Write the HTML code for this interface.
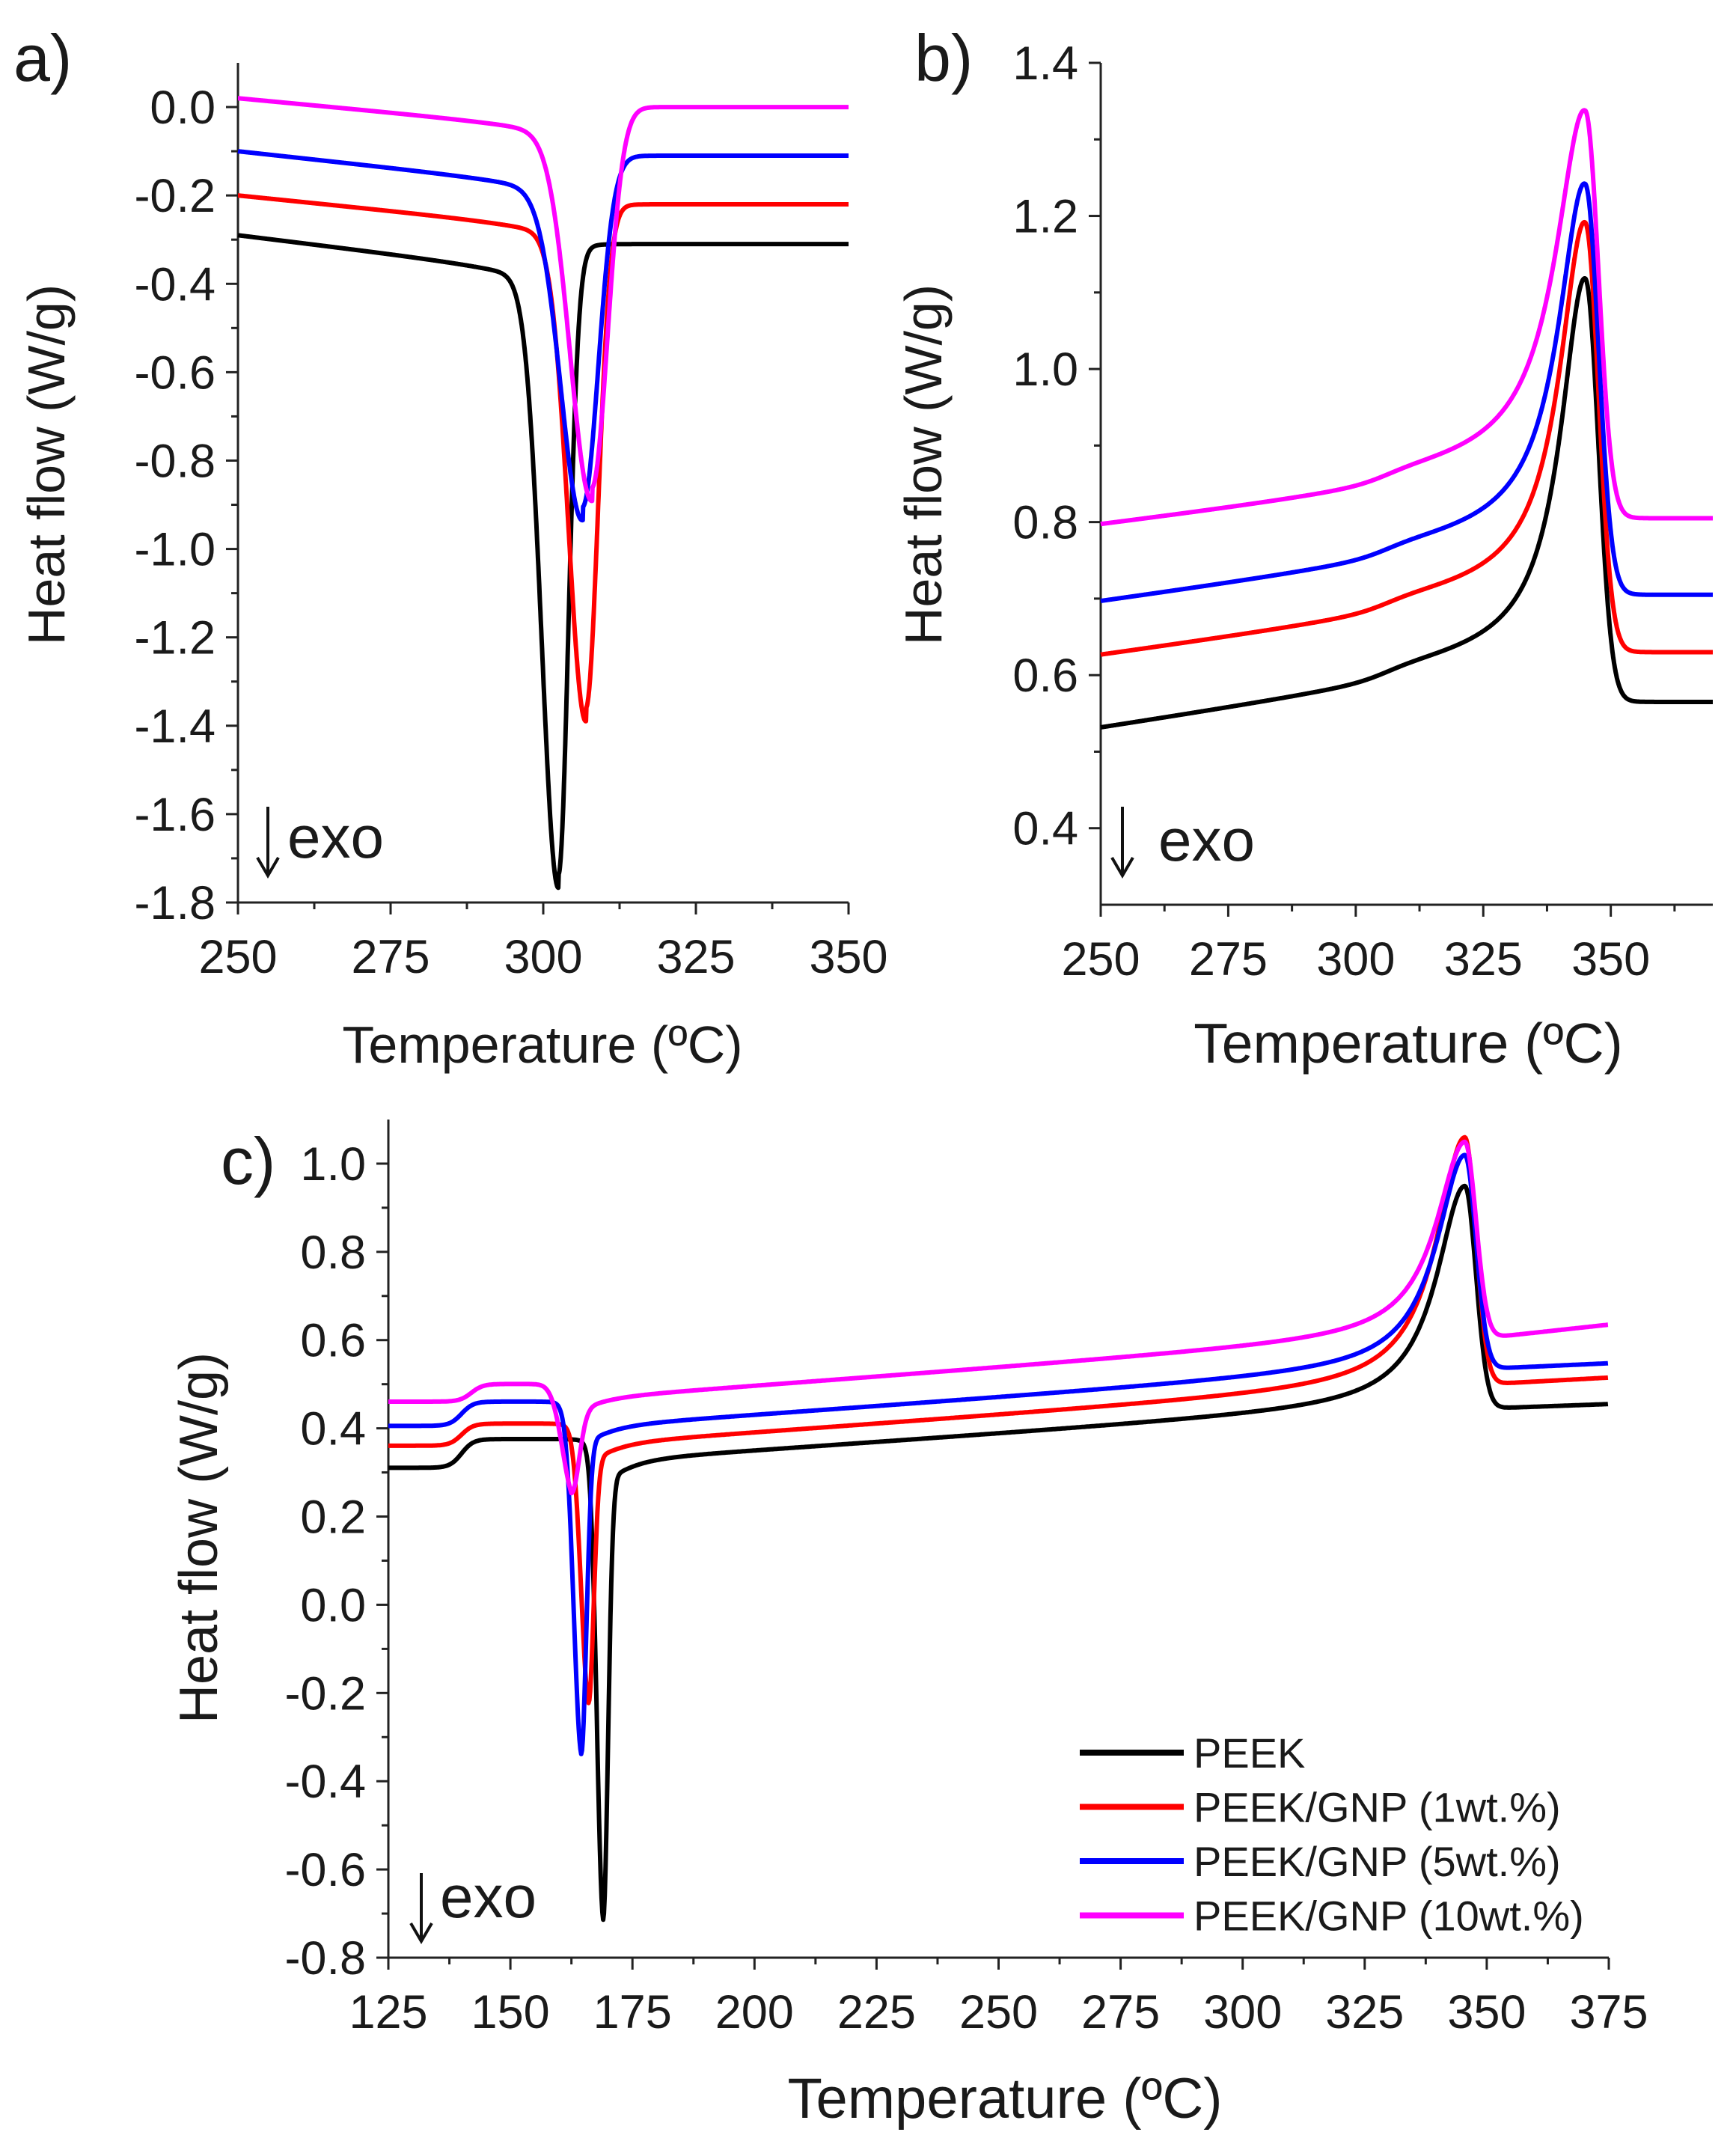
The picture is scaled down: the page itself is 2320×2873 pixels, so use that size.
<!DOCTYPE html>
<html><head><meta charset="utf-8"><style>
html,body{margin:0;padding:0;background:#fff;}
svg{display:block;}
text{font-family:"Liberation Sans",Arial,sans-serif;fill:#1a1a1a;}
</style></head><body>
<svg id="s" width="2320" height="2873" viewBox="0 0 2320 2873" xmlns="http://www.w3.org/2000/svg"></svg>
<script>
const S=document.getElementById('s');let out='';
function ax(P){
 const X=v=>P.L+(v-P.x0)/(P.x1-P.x0)*(P.R-P.L);
 const Y=v=>P.B+(v-P.y0)/(P.y1-P.y0)*(P.T-P.B);
 P.X=X;P.Y=Y;
 out+=`<path d="M${P.L} ${P.T}V${P.B}H${P.R}" stroke="#222" stroke-width="3" fill="none"/>`;
 for(let v=P.xs;v<=P.x1+1e-6;v+=P.xm/2){const x=X(v);const maj=Math.abs(((v-P.xs)/P.xm)-Math.round((v-P.xs)/P.xm))<1e-6;
  out+=`<line x1="${x}" y1="${P.B}" x2="${x}" y2="${P.B+(maj?16:9)}" stroke="#222" stroke-width="3"/>`;
  if(maj)out+=`<text x="${x}" y="${P.B+94}" font-size="63" text-anchor="middle">${Math.round(v)}</text>`;}
 for(let v=P.ys;v<=P.yT+1e-6;v+=P.ym/2){const y=Y(v);const k=(v-P.ys)/P.ym;const maj=Math.abs(k-Math.round(k))<1e-6;
  out+=`<line x1="${P.L}" y1="${y}" x2="${P.L-(maj?16:9)}" y2="${y}" stroke="#222" stroke-width="3"/>`;
  if(maj)out+=`<text x="${P.L-30}" y="${y+22}" font-size="63" text-anchor="end">${v.toFixed(1).replace('-0.0','0.0')}</text>`;}
}
function line(P,f,col,w){let d='';for(let x=P.x0;x<=P.x1;x+=(P.x1-P.x0)/1500){d+=(d?'L':'M')+P.X(x).toFixed(1)+' '+P.Y(f(x)).toFixed(1);}
 out+=`<path d="${d}" stroke="${col}" stroke-width="${w||6}" fill="none" stroke-linejoin="round"/>`;}
const sig=(x,c,w)=>1/(1+Math.exp(-(x-c)/w));
const ag=(x,c,a,sl,sr)=>a*Math.exp(-(((x-c)/(x<c?sl:sr))**2));
const lp=(x,c,a,wl,sr)=>x<c?a/(1+((x-c)/wl)**2):a*Math.exp(-(((x-c)/sr)**2));

// Panel a
const A={L:318,R:1134,T:84,B:1206,x0:250,x1:350,y0:-1.8,y1:0.1,xs:250,xm:25,ys:-1.8,yT:0.05,ym:0.2};
ax(A);
function fa(b0,sl,post,c,mn,sL,sR){return x=>{const pre=b0+sl*(x-250);const base=pre*(1-sig(x,c+1,1.5))+post*sig(x,c+1,1.5);
 const pc=b0+sl*(c-250);return base+ag(x,c,mn-pc,sL,sR)+ (x<c? -0.03*Math.exp((x-c)/8):0);}}
line(A,fa(-0.29,-0.0017,-0.31,302.5,-1.76,3.8,2.3),'#000');
line(A,fa(-0.20,-0.0014,-0.22,307,-1.38,4,2.8),'#f00');
line(A,fa(-0.10,-0.0015,-0.11,306.5,-0.93,5,3.6),'#00f');
line(A,fa(0.02,-0.0013,0.0,308,-0.88,5,3.6),'#f0f');

// Panel b
const B={L:1471,R:2289,T:84,B:1209,x0:250,x1:370,y0:0.3,y1:1.4,xs:250,xm:25,ys:0.4,yT:1.4,ym:0.2};
ax(B);
function fb(b0,sl,bump,post,pk,wl){return x=>{const pre=b0+sl*(x-250)+bump*sig(x,306,3);
 const base=pre*(1-sig(x,348,1.3))+post*sig(x,348,1.3);const pc=b0+sl*95+bump;return base+lp(x,345,pk-pc,wl,3.6);}}
line(B,fb(0.53,0.0010,0.015,0.565,1.125,5.8),'#000');
line(B,fb(0.625,0.0009,0.015,0.63,1.2,6),'#f00');
line(B,fb(0.695,0.0009,0.015,0.705,1.25,6.3),'#00f');
line(B,fb(0.795,0.0008,0.015,0.805,1.345,7),'#f0f');

// Panel c
const C={L:519,R:2150,T:1496,B:2616,x0:125,x1:375,y0:-0.8,y1:1.1,xs:125,xm:25,ys:-0.8,yT:1.0,ym:0.2};
ax(C);
function fc(o){return x=>{const pre0=o.b0+o.st*sig(x,o.sx,1.2);
 const pd=o.q0+o.q1*(x-175);
 const s=sig(x,o.dx,1.0);
 let y=pre0*(1-s)+pd*s;
 const post=o.post+o.ps*(x-350);
 y=y*(1-sig(x,349,1.1))+post*sig(x,349,1.1);
 const pc=o.q0+o.q1*170.5;
 y+=lp(x,345.5,o.pk-pc,7,3.2);
 const bd=o.b0+o.st;
 y+=ag(x,o.dx,o.mn-bd+o.R,o.dl,o.dr);
 y+= -o.R*Math.exp(-Math.abs(x-o.dx)/(x<o.dx?1.5:o.tau));
 return y;}}
line(C,fc({b0:0.31,st:0.065,sx:140,q0:0.33,q1:0.00075,dx:169,mn:-0.69,dl:1.8,dr:1.4,R:0.06,tau:5,post:0.445,ps:0.0004,pk:0.95}),'#000');
line(C,fc({b0:0.36,st:0.05,sx:140,q0:0.37,q1:0.00078,dx:166,mn:-0.2,dl:2.2,dr:1.5,R:0.05,tau:5,post:0.50,ps:0.0006,pk:1.06}),'#f00');
line(C,fc({b0:0.405,st:0.055,sx:140,q0:0.41,q1:0.00078,dx:164.5,mn:-0.31,dl:2.2,dr:1.5,R:0.05,tau:5,post:0.535,ps:0.0005,pk:1.02}),'#00f');
line(C,fc({b0:0.46,st:0.04,sx:142,q0:0.475,q1:0.00082,dx:162.5,mn:0.27,dl:3,dr:2.2,R:0.04,tau:5,post:0.605,ps:0.0012,pk:1.05}),'#f0f');

// labels
out+=`<text x="18" y="108" font-size="88">a)</text><text x="1222" y="108" font-size="88">b)</text><text x="295" y="1582" font-size="88">c)</text>`;
out+=`<text transform="translate(86,621) rotate(-90)" font-size="70" text-anchor="middle">Heat flow (W/g)</text>`;
out+=`<text transform="translate(1258,621) rotate(-90)" font-size="70" text-anchor="middle">Heat flow (W/g)</text>`;
out+=`<text transform="translate(290,2055) rotate(-90)" font-size="72" text-anchor="middle">Heat flow (W/g)</text>`;
out+=`<text x="725" y="1420" font-size="70" text-anchor="middle">Temperature (ºC)</text>`;
out+=`<text x="1882" y="1420" font-size="75" text-anchor="middle">Temperature (ºC)</text>`;
out+=`<text x="1343" y="2830" font-size="76" text-anchor="middle">Temperature (ºC)</text>`;
function exo(x,y1,y2,tx,ty){out+=`<path d="M${x} ${y1}V${y2} M${x-14} ${y2-24}L${x} ${y2}L${x+14} ${y2-24}" stroke="#111" stroke-width="4" fill="none"/><text x="${tx}" y="${ty}" font-size="80">exo</text>`;}
exo(358,1078,1170,384,1146);exo(1500,1078,1170,1548,1150);exo(563,2503,2594,588,2562);
const lg=[['PEEK','#000'],['PEEK/GNP (1wt.%)','#f00'],['PEEK/GNP (5wt.%)','#00f'],['PEEK/GNP (10wt.%)','#f0f']];
lg.forEach((l,i)=>{const y=2342+i*72.5;out+=`<line x1="1443" y1="${y}" x2="1582" y2="${y}" stroke="${l[1]}" stroke-width="8"/><text x="1595" y="${y+20}" font-size="56">${l[0]}</text>`;});
S.innerHTML=out;
</script>
</body></html>
